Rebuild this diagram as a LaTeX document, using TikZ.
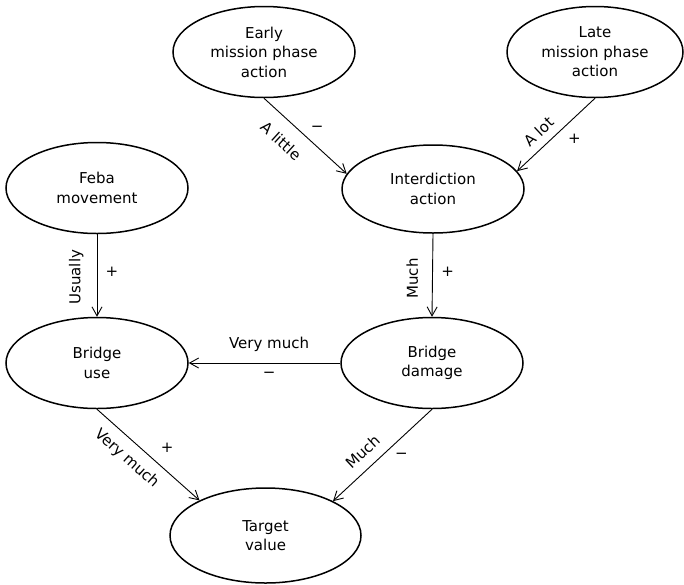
\documentclass[tikz,border=0pt]{standalone}
\usepackage{fontspec}
\setmainfont{DejaVu Sans}
\usetikzlibrary{shapes.geometric,arrows.meta}
\begin{document}
\begin{tikzpicture}[x=1pt,y=-1pt,
  state/.style={draw,ellipse,line width=1.5pt,inner sep=0pt,minimum width=182pt,minimum height=91pt,align=center,font=\fontsize{15}{19.5}\selectfont},
  link/.style={line width=0.9pt,-{Straight Barb[length=9pt,width=10pt]}},
  lbl/.style={font=\fontsize{15}{18}\selectfont,inner sep=3pt},
  sgn/.style={font=\fontsize{15}{18}\selectfont,inner sep=0pt}]
\useasboundingbox (0,0) rectangle (684,584);
\node[state] (E) at (264,52) {Early\\mission phase\\action};
\node[state,minimum width=176pt] (L) at (595,52) {Late\\mission phase\\action};
\node[state] (F) at (97,188) {Feba\\movement};
\node[state,minimum height=88pt] (I) at (433,189) {Interdiction\\action};
\node[state] (BU) at (97,363) {Bridge\\use};
\node[state] (BD) at (432,363) {Bridge\\damage};
\node[state,minimum width=191pt,minimum height=95pt] (T) at (265.5,535.5) {Target\\value};

\draw[link] (E.south) -- node[lbl,sloped,below,pos=0.37,inner sep=14pt] {A little} node[sgn,pos=0.4,xshift=20pt] {−} (I.170);
\draw[link] (L.south) -- node[lbl,sloped,above,pos=0.6,inner sep=8pt] {A lot} node[sgn,pos=0.56,xshift=23pt] {+} (I.12);
\draw[link] (F.south) -- node[lbl,rotate=90,anchor=south,pos=0.52,inner sep=13pt] {Usually} node[sgn,pos=0.46,xshift=15pt] {+} (BU.north);
\draw[link] (I.south) -- node[lbl,rotate=90,anchor=south,pos=0.54,inner sep=14pt] {Much} node[sgn,pos=0.46,xshift=15pt] {+} (BD.north);
\draw[link] (BD.west) -- node[lbl,above,pos=0.47,inner sep=11pt] {Very much} node[sgn,below,pos=0.47,yshift=-9pt] {−} (BU.east);
\draw[link] (BU.south) -- node[lbl,sloped,below,pos=0.4,inner sep=9.5pt] {Very much} node[sgn,pos=0.42,xshift=27pt] {+} (T.152);
\draw[link] (BD.south) -- node[lbl,sloped,above,pos=0.59,inner sep=10pt] {Much} node[sgn,pos=0.51,xshift=20pt] {−} (T.27);
\end{tikzpicture}
\end{document}
